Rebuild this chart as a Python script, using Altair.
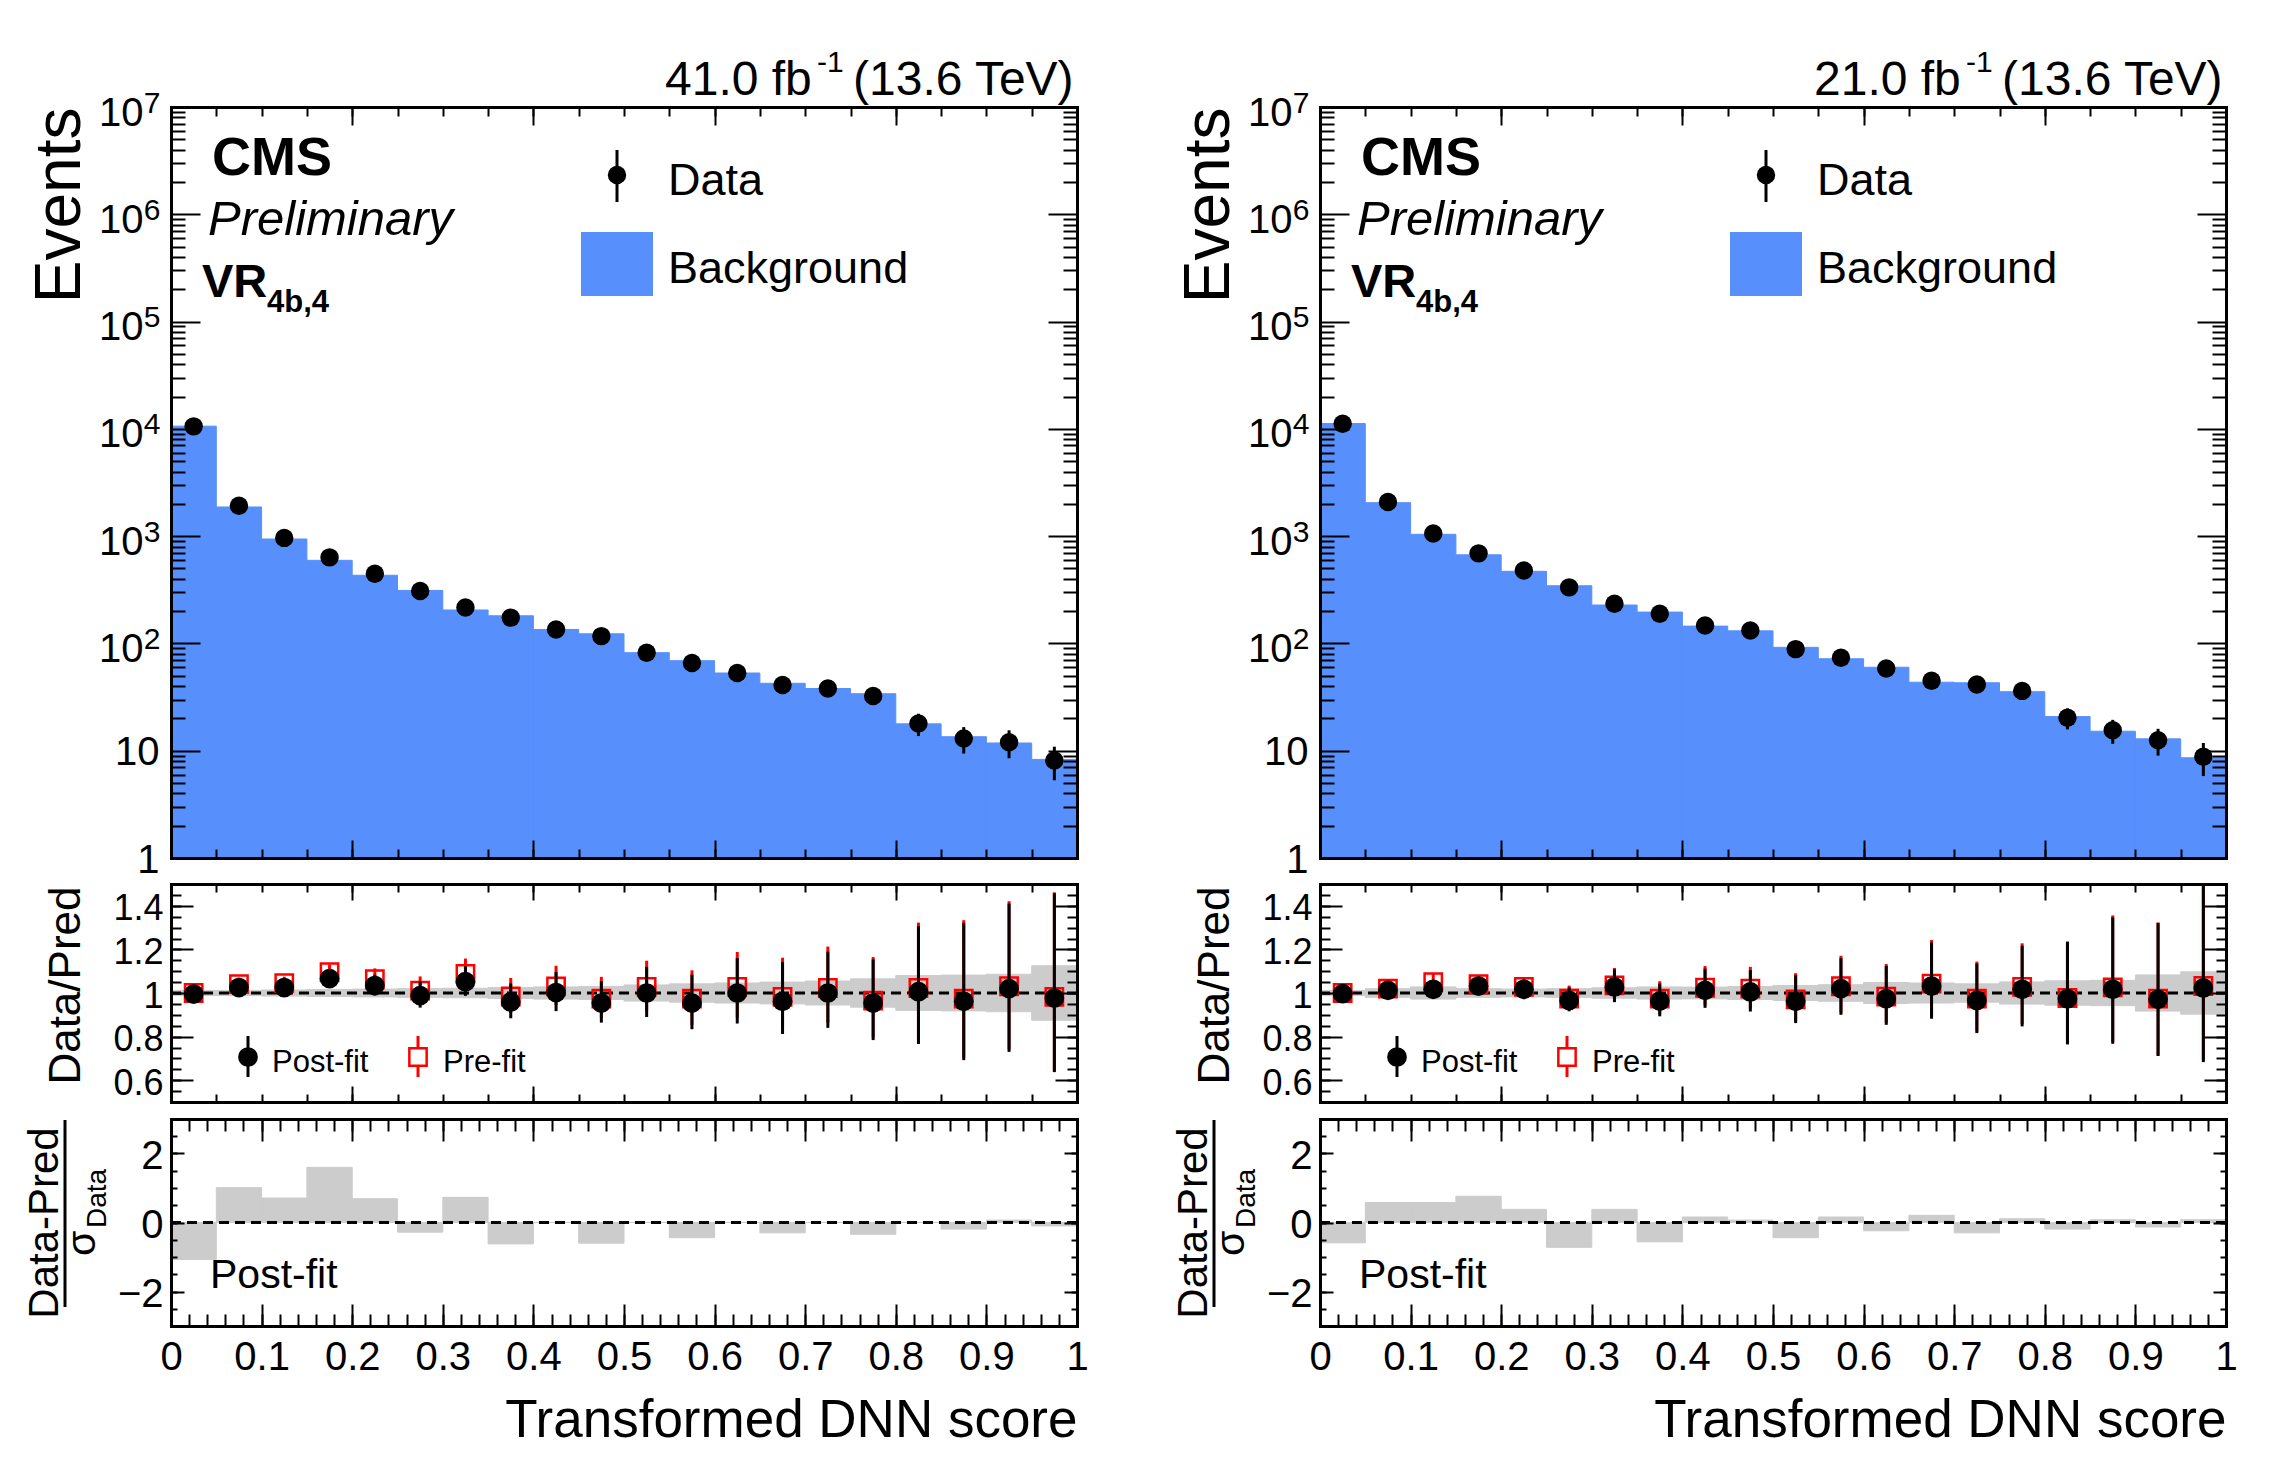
import altair as alt
import pandas as pd

FONT = "Liberation Sans, Arial, Helvetica, sans-serif"
BLUE = "#5790fc"
GRAY = "#cccccc"
RED = "#ff0000"

W = 906
H_MAIN, H_RATIO, H_PULL = 751, 218, 207

# ---------------- data ----------------
bin_lo = [0.0, 0.05, 0.1, 0.15, 0.2, 0.25, 0.3, 0.35, 0.4, 0.45,
          0.5, 0.55, 0.6, 0.65, 0.7, 0.75, 0.8, 0.85, 0.9, 0.95]
bin_hi = [0.05, 0.1, 0.15, 0.2, 0.25, 0.3, 0.35, 0.4, 0.45, 0.5,
          0.55, 0.6, 0.65, 0.7, 0.75, 0.8, 0.85, 0.9, 0.95, 1.0]
bin_mid = [0.025, 0.075, 0.125, 0.175, 0.225, 0.275, 0.325, 0.375, 0.425, 0.475,
           0.525, 0.575, 0.625, 0.675, 0.725, 0.775, 0.825, 0.875, 0.925, 0.975]

# left panel (41.0 fb-1)
data_L = [10550, 1917, 963, 634, 447, 308, 216, 174, 135, 117,
          82, 65.8, 53, 40.9, 38, 32.4, 17.9, 13.0, 12.0, 8.1]
err_L = [103, 44, 31, 25, 21, 17.5, 14.7, 13.2, 11.6, 10.8,
         9.1, 8.1, 7.3, 6.4, 6.2, 5.7, 4.2, 3.6, 3.5, 2.8]
bkg_L = [10600, 1870, 940, 595, 432, 312, 205, 181, 135, 123,
         82, 69, 53, 42.5, 38, 34, 17.8, 13.5, 11.8, 8.3]
post_L = [0.995, 1.025, 1.025, 1.066, 1.034, 0.988, 1.052, 0.959, 1.002, 0.954,
          1.0, 0.954, 1.0, 0.962, 1.0, 0.954, 1.006, 0.962, 1.02, 0.977]
pre_L = [1.0, 1.041, 1.045, 1.096, 1.063, 1.011, 1.088, 0.984, 1.03, 0.974,
         1.028, 0.974, 1.028, 0.982, 1.023, 0.965, 1.023, 0.974, 1.031, 0.982]
up_L = [0.02, 0.03, 0.03, 0.035, 0.05, 0.065, 0.07, 0.085, 0.095, 0.1,
        0.12, 0.13, 0.16, 0.18, 0.19, 0.2, 0.3, 0.36, 0.39, 0.48]
dn_L = [0.02, 0.03, 0.03, 0.035, 0.045, 0.055, 0.065, 0.075, 0.085, 0.09,
        0.11, 0.12, 0.14, 0.15, 0.16, 0.17, 0.24, 0.27, 0.29, 0.34]
band_L = [0.012, 0.012, 0.014, 0.016, 0.018, 0.02, 0.022, 0.025, 0.028, 0.03,
          0.037, 0.042, 0.046, 0.05, 0.055, 0.065, 0.08, 0.082, 0.086, 0.125]
pull_L = [-1.07, 1.01, 0.71, 1.6, 0.69, -0.28, 0.73, -0.62, 0.0, -0.6,
          0.0, -0.44, 0.0, -0.3, 0.0, -0.34, 0.0, -0.19, 0.07, -0.1]

# right panel (21.0 fb-1)
data_R = [11150, 2083, 1058, 691, 478, 333, 234, 189, 147, 132,
          88.5, 73.4, 58.4, 44.9, 41.5, 36.1, 20.3, 15.5, 12.5, 8.8]
err_R = [105, 46, 33, 26, 22, 18, 15.3, 13.7, 12.1, 11.5,
         9.4, 8.6, 7.7, 6.7, 6.4, 6.0, 4.5, 3.9, 3.5, 3.0]
bkg_R = [11200, 2050, 1040, 670, 470, 345, 228, 196, 145, 131,
         92, 72, 60, 43.5, 43, 35.5, 20.8, 15.2, 12.9, 8.6]
post_R = [0.997, 1.012, 1.017, 1.032, 1.017, 0.966, 1.028, 0.963, 1.012, 1.005,
          0.962, 1.02, 0.974, 1.032, 0.966, 1.017, 0.974, 1.017, 0.971, 1.023]
pre_R = [1.0, 1.02, 1.05, 1.04, 1.028, 0.974, 1.035, 0.974, 1.024, 1.02,
         0.971, 1.031, 0.983, 1.043, 0.974, 1.028, 0.977, 1.026, 0.974, 1.032]
up_R = [0.02, 0.035, 0.04, 0.04, 0.045, 0.06, 0.08, 0.08, 0.1, 0.1,
        0.12, 0.14, 0.15, 0.2, 0.17, 0.2, 0.26, 0.33, 0.35, 0.47]
dn_R = [0.02, 0.035, 0.04, 0.04, 0.045, 0.05, 0.07, 0.07, 0.08, 0.09,
        0.1, 0.12, 0.12, 0.15, 0.15, 0.17, 0.21, 0.25, 0.26, 0.34]
band_R = [0.012, 0.02, 0.028, 0.02, 0.018, 0.02, 0.024, 0.028, 0.027, 0.03,
          0.034, 0.038, 0.048, 0.046, 0.042, 0.051, 0.056, 0.058, 0.083, 0.097]
pull_R = [-0.59, 0.58, 0.58, 0.76, 0.38, -0.72, 0.38, -0.56, 0.16, 0.07,
          -0.44, 0.16, -0.24, 0.21, -0.3, 0.11, -0.19, 0.08, -0.13, 0.08]

# ---------------- tick positions ----------------
X_MAJ_A = [0.0, 0.2, 0.4, 0.6, 0.8, 1.0]
X_MIN_A = [round(0.05 * i, 2) for i in range(21)]
X_MAJ_P = [0.0, 0.1, 0.2, 0.3, 0.4, 0.5, 0.6, 0.7, 0.8, 0.9, 1.0]
X_MIN_P = [round(0.02 * i, 2) for i in range(51)]
LOG_MAJ = [1, 10, 100, 1000, 10000, 100000, 1000000, 10000000]
LOG_EXP = [100, 1000, 10000, 100000, 1000000, 10000000]
LOG_MIN = [m * 10 ** k for k in range(7) for m in range(2, 10)]
R_MAJ = [0.6, 0.8, 1.0, 1.2, 1.4]
R_MIN = [round(0.5 + 0.05 * i, 2) for i in range(21)]
P_MAJ = [-2, 0, 2]
P_MIN = [-3 + 0.5 * i for i in range(13)]


def xs():
    return alt.Scale(domain=[0, 1], nice=False, zero=False)


def ax(orient, **kw):
    d = dict(orient=orient, offset=0, domain=False, ticks=False, labels=False,
             grid=False, title=None, zindex=1)
    d.update(kw)
    if d["domain"]:
        d.update(domainColor="black", domainWidth=3, domainCap="square")
    if d["ticks"]:
        d.update(tickColor="black", tickWidth=2)
    if d["labels"]:
        d.update(labelFont=FONT, labelColor="black", labelFlush=False, labelOverlap=False)
    if d["title"] is not None:
        d.update(titleFont=FONT, titleColor="black", titleFontWeight="normal")
    return alt.Axis(**d)


def tk(orient, size, values):
    return ax(orient, offset=-size, ticks=True, tickSize=size, values=values)


def carriers(xaxes, yaxes, yscale, yval):
    df = pd.DataFrame({"cx": [0.5], "cy": [yval]})
    out = []
    for i in range(max(len(xaxes), len(yaxes))):
        xa = xaxes[i] if i < len(xaxes) else None
        ya = yaxes[i] if i < len(yaxes) else None
        out.append(alt.Chart(df).mark_point(opacity=0).encode(
            x=alt.X("cx:Q", scale=xs(), axis=xa),
            y=alt.Y("cy:Q", scale=yscale, axis=ya)))
    return out


ONE = pd.DataFrame({"k": [0]})


def txt(s, x, y, size, align="left", baseline="alphabetic", angle=0, color="black", **kw):
    m = dict(align=align, baseline=baseline, fontSize=size, font=FONT, color=color)
    if angle:
        m["angle"] = angle
    m.update(kw)
    return alt.Chart(ONE).mark_text(**m).encode(x=alt.value(x), y=alt.value(y), text=alt.value(s))


def vrule(x, y1, y2, color="black", width=3):
    return alt.Chart(ONE).mark_rule(color=color, strokeWidth=width).encode(
        x=alt.value(x), y=alt.value(y1), y2=alt.value(y2))


def main_panel(lumi, data, err, bkg):
    df = pd.DataFrame({"lo": bin_lo, "hi": bin_hi, "mid": bin_mid,
                       "data": data, "err": err, "bkg": bkg})
    df["dlo"] = df["data"] - df["err"]
    df["dhi"] = df["data"] + df["err"]
    ys = alt.Scale(type="log", domain=[1, 1e7], nice=False)

    def X(f):
        return alt.X(f, scale=xs(), axis=None)

    def Y(f):
        return alt.Y(f, scale=ys, axis=None)

    hist = alt.Chart(df).mark_rect(color=BLUE, stroke=BLUE, strokeWidth=1).encode(
        x=X("lo:Q"), x2="hi:Q", y=Y("bkg:Q"), y2=alt.datum(1))
    bars = alt.Chart(df).mark_rule(color="black", strokeWidth=3).encode(
        x=X("mid:Q"), y=Y("dlo:Q"), y2="dhi:Q")
    pts = alt.Chart(df).mark_circle(size=340, color="black", opacity=1).encode(
        x=X("mid:Q"), y=Y("data:Q"))

    annots = [
        txt("CMS", 41, 68, 54, fontWeight="bold"),
        txt("Preliminary", 37, 128, 49, fontStyle="italic"),
        txt("VR", 31, 190, 47, fontWeight="bold"),
        txt("4b,4", 96, 205, 31, fontWeight="bold"),
        vrule(446, 43, 95),
        alt.Chart(ONE).mark_circle(size=340, color="black", opacity=1).encode(
            x=alt.value(446), y=alt.value(68)),
        txt("Data", 497, 88, 45),
        alt.Chart(ONE).mark_rect(color=BLUE).encode(
            x=alt.value(410), x2=alt.value(482), y=alt.value(125), y2=alt.value(189)),
        txt("Background", 497, 176, 45),
        txt(lumi, 494, -12, 48),
        txt("-1", 646, -35, 30),
        txt("(13.6 TeV)", 682, -12, 48),
    ]

    left_main = ax("left", domain=True, labels=True, values=[1, 10],
                   labelExpr="datum.value < 5 ? '1' : '10'", labelFontSize=40,
                   labelPadding=12, labelOffset=2,
                   title="Events", titleFontSize=64, titleX=-92, titleY=0,
                   titleAngle=270, titleAlign="right", titleBaseline="alphabetic")
    left_base = ax("left", labels=True, values=LOG_EXP, labelExpr="'10'",
                   labelFontSize=40, labelPadding=28, labelOffset=6)
    left_exp = ax("left", labels=True, values=LOG_EXP,
                  labelExpr="'' + round(log(datum.value) / LN10)",
                  labelFontSize=30, labelPadding=11, labelOffset=-4)
    xaxes = [ax("bottom", domain=True), tk("bottom", 18, X_MAJ_A), tk("bottom", 9, X_MIN_A),
             ax("top", domain=True), tk("top", 18, X_MAJ_A), tk("top", 9, X_MIN_A)]
    yaxes = [left_main, left_base, left_exp, tk("left", 29, LOG_MAJ), tk("left", 14, LOG_MIN),
             ax("right", domain=True), tk("right", 29, LOG_MAJ), tk("right", 14, LOG_MIN)]

    layers = [hist, bars, pts] + annots + carriers(xaxes, yaxes, ys, 10)
    return alt.layer(*layers).resolve_axis(x="independent", y="independent").properties(
        width=W, height=H_MAIN)


def ratio_panel(post, pre, up, dn, band):
    df = pd.DataFrame({"lo": bin_lo, "hi": bin_hi, "mid": bin_mid, "post": post,
                       "pre": pre, "up": up, "dn": dn, "band": band})
    df["pl"] = df["post"] - df["dn"]
    df["ph"] = df["post"] + df["up"]
    df["rl"] = df["pre"] - df["dn"]
    df["rh"] = df["pre"] + df["up"]
    df["bl"] = 1 - df["band"]
    df["bh"] = 1 + df["band"]
    ys = alt.Scale(domain=[0.5, 1.5], nice=False, zero=False)

    def X(f):
        return alt.X(f, scale=xs(), axis=None)

    def Y(f):
        return alt.Y(f, scale=ys, axis=None)

    bandm = alt.Chart(df).mark_rect(color=GRAY, stroke=GRAY, strokeWidth=1).encode(
        x=X("lo:Q"), x2="hi:Q", y=Y("bl:Q"), y2="bh:Q")
    line = alt.Chart(ONE).mark_rule(color="black", strokeWidth=3, strokeDash=[10, 6]).encode(
        y=alt.Y(datum=1, scale=ys, axis=None))
    rbars = alt.Chart(df).mark_rule(color=RED, strokeWidth=3, clip=True).encode(
        x=X("mid:Q"), y=Y("rl:Q"), y2="rh:Q")
    rsq = alt.Chart(df).mark_point(shape="square", filled=False, color=RED, strokeWidth=2.5,
                                   size=300, opacity=1).encode(x=X("mid:Q"), y=Y("pre:Q"))
    bbars = alt.Chart(df).mark_rule(color="black", strokeWidth=3, clip=True).encode(
        x=X("mid:Q"), y=Y("pl:Q"), y2="ph:Q")
    bpts = alt.Chart(df).mark_circle(size=390, color="black", opacity=1).encode(
        x=X("mid:Q"), y=Y("post:Q"))

    annots = [
        vrule(77, 152, 193),
        alt.Chart(ONE).mark_circle(size=390, color="black", opacity=1).encode(
            x=alt.value(77), y=alt.value(173)),
        txt("Post-fit", 101, 188, 31),
        vrule(247, 152, 193, color=RED),
        alt.Chart(ONE).mark_point(shape="square", filled=True, fill="white", stroke=RED,
                                  strokeWidth=2.5, size=300, opacity=1).encode(
            x=alt.value(247), y=alt.value(173)),
        txt("Pre-fit", 272, 188, 31),
    ]

    left_main = ax("left", domain=True, labels=True, values=R_MAJ, format="~g",
                   labelFontSize=36, labelPadding=8, labelOffset=3,
                   title="Data/Pred", titleFontSize=44, titleX=-92, titleY=2,
                   titleAngle=270, titleAlign="right", titleBaseline="alphabetic")
    xaxes = [ax("bottom", domain=True), tk("bottom", 16, X_MAJ_A), tk("bottom", 8, X_MIN_A),
             ax("top", domain=True), tk("top", 16, X_MAJ_A), tk("top", 8, X_MIN_A)]
    yaxes = [left_main, tk("left", 22, R_MAJ), tk("left", 10, R_MIN),
             ax("right", domain=True), tk("right", 22, R_MAJ), tk("right", 10, R_MIN)]
    layers = [bandm, line, rbars, rsq, bbars, bpts] + annots + carriers(xaxes, yaxes, ys, 1)
    return alt.layer(*layers).resolve_axis(x="independent", y="independent").properties(
        width=W, height=H_RATIO)


def pull_panel(pull):
    df = pd.DataFrame({"lo": bin_lo, "hi": bin_hi, "pull": pull})
    ys = alt.Scale(domain=[-3, 3], nice=False, zero=False)
    bars = alt.Chart(df).mark_rect(color=GRAY, stroke=GRAY, strokeWidth=1).encode(
        x=alt.X("lo:Q", scale=xs(), axis=None), x2="hi:Q",
        y=alt.Y("pull:Q", scale=ys, axis=None), y2=alt.datum(0))
    line = alt.Chart(ONE).mark_rule(color="black", strokeWidth=3, strokeDash=[10, 6]).encode(
        y=alt.Y(datum=0, scale=ys, axis=None))
    annots = [
        txt("Post-fit", 39, 169, 41),
        txt("Data-Pred", -113, 104, 42, align="center", angle=270),
        vrule(-106, 1, 188),
        txt("\u03c3", -76, 137, 41, angle=270),
        txt("Data", -65, 109, 28, angle=270),
    ]
    bottom_main = ax("bottom", domain=True, labels=True, values=X_MAJ_P, format="~g",
                     labelFontSize=40, labelPadding=11,
                     title="Transformed DNN score", titleFontSize=53, titleX=W, titleY=110,
                     titleAngle=0, titleAlign="right", titleBaseline="alphabetic")
    left_main = ax("left", domain=True, labels=True, values=P_MAJ, format="~g",
                   labelFontSize=40, labelPadding=8, labelOffset=3)
    xaxes = [bottom_main, tk("bottom", 22, X_MAJ_P), tk("bottom", 12, X_MIN_P),
             ax("top", domain=True), tk("top", 22, X_MAJ_P), tk("top", 12, X_MIN_P)]
    yaxes = [left_main, tk("left", 13, P_MAJ), tk("left", 6, P_MIN),
             ax("right", domain=True), tk("right", 13, P_MAJ), tk("right", 6, P_MIN)]
    layers = [bars, line] + annots + carriers(xaxes, yaxes, ys, 0)
    return alt.layer(*layers).resolve_axis(x="independent", y="independent").properties(
        width=W, height=H_PULL)


def column(lumi, data, err, bkg, post, pre, up, dn, band, pull):
    lower = alt.vconcat(ratio_panel(post, pre, up, dn, band), pull_panel(pull), spacing=15)
    return alt.vconcat(main_panel(lumi, data, err, bkg), lower, spacing=3)


left = column("41.0 fb", data_L, err_L, bkg_L, post_L, pre_L, up_L, dn_L, band_L, pull_L)
right = column("21.0 fb", data_R, err_R, bkg_R, post_R, pre_R, up_R, dn_R, band_R, pull_R)

chart = alt.hconcat(left, right, spacing=84).properties(
    padding={"left": 16, "top": 40, "right": 5, "bottom": 5},
    background="white",
).configure_view(stroke=None)

chart.save("out.html", embed_options={"renderer": "svg", "actions": False})
